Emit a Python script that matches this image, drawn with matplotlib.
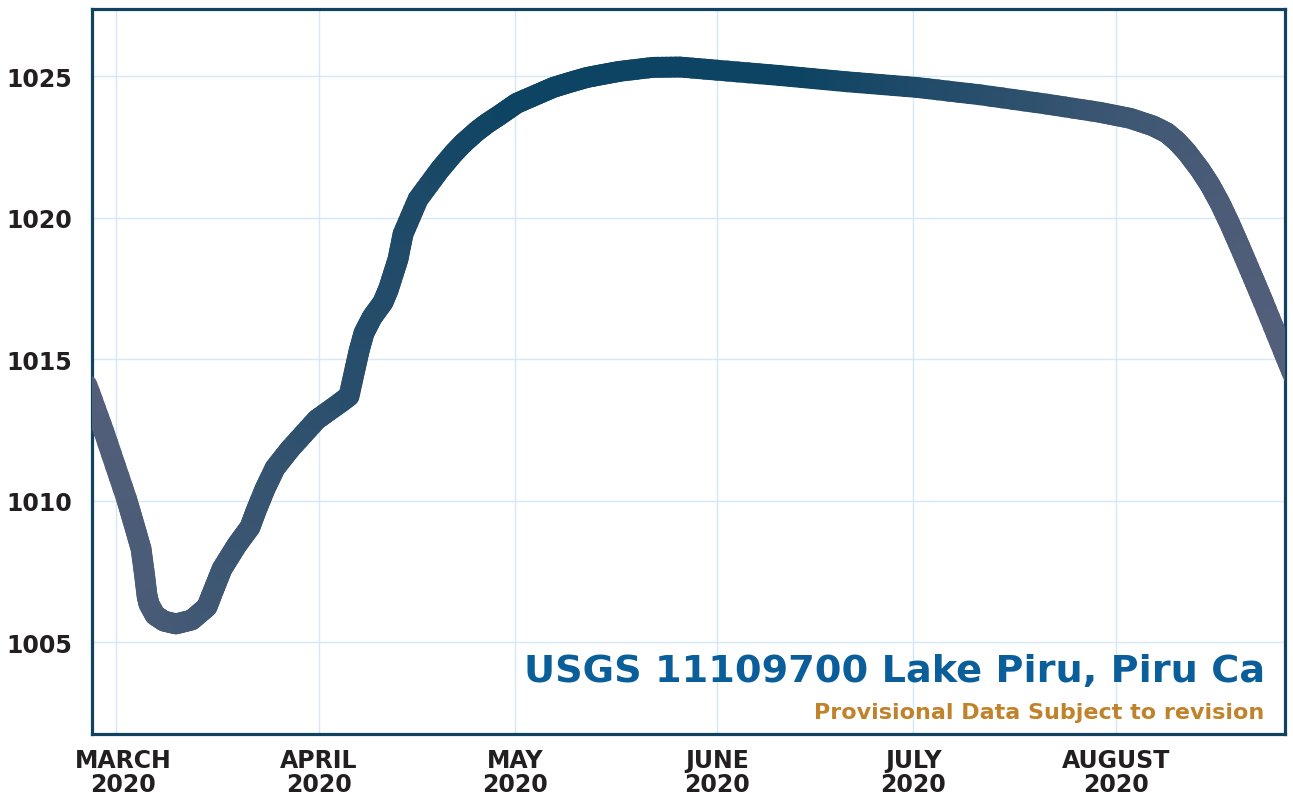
import numpy as np
import pandas as pd
import matplotlib
matplotlib.use("Agg")
import matplotlib.pyplot as plt
import matplotlib.dates as mdates
import matplotlib.transforms as mtransforms
from matplotlib.collections import LineCollection
from matplotlib.colors import LinearSegmentedColormap

# lake elevation readings (ft)
times = [
    "2020-02-25 13:30", "2020-02-28 04:00", "2020-03-02 15:00", "2020-03-03 17:45",
    "2020-03-04 20:00", "2020-03-05 08:20", "2020-03-05 18:00", "2020-03-06 01:10",
    "2020-03-06 23:15", "2020-03-08 08:00", "2020-03-10 04:00", "2020-03-12 14:00",
    "2020-03-14 22:00", "2020-03-15 15:00", "2020-03-17 05:00", "2020-03-19 12:00",
    "2020-03-21 12:00", "2020-03-22 10:00", "2020-03-23 19:00", "2020-03-25 08:00",
    "2020-03-27 15:00", "2020-03-31 17:00", "2020-04-04 06:30", "2020-04-05 15:30",
    "2020-04-06 13:40", "2020-04-07 04:20", "2020-04-07 22:30", "2020-04-09 04:30",
    "2020-04-10 20:30", "2020-04-11 16:30", "2020-04-13 03:30", "2020-04-13 22:00",
    "2020-04-16 05:00", "2020-04-19 13:40", "2020-04-21 14:40", "2020-04-23 03:20",
    "2020-04-25 04:30", "2020-04-26 17:15", "2020-04-28 18:00", "2020-05-01 07:30",
    "2020-05-04 02:40", "2020-05-06 21:50", "2020-05-09 11:00", "2020-05-12 00:30",
    "2020-05-14 12:15", "2020-05-17 02:40", "2020-05-22 05:00", "2020-05-26 07:00",
    "2020-05-31 21:50", "2020-06-10 14:10", "2020-06-20 19:10", "2020-07-01 12:15",
    "2020-07-11 04:30", "2020-07-21 09:40", "2020-07-29 13:00", "2020-08-03 03:20",
    "2020-08-06 16:00", "2020-08-08 18:00", "2020-08-10 07:00", "2020-08-11 19:40",
    "2020-08-13 20:30", "2020-08-15 09:00", "2020-08-16 22:00", "2020-08-18 10:30",
    "2020-08-19 23:20", "2020-08-22 00:15", "2020-08-23 13:00", "2020-08-26 14:20",
    "2020-08-28 02:00",
]
elevation = [
    1014.08, 1012.42, 1010.05, 1009.17,
    1008.29, 1007.40, 1006.63, 1006.34,
    1005.95, 1005.74, 1005.64, 1005.78,
    1006.24, 1006.66, 1007.58, 1008.43,
    1009.06, 1009.63, 1010.41, 1011.15,
    1011.82, 1012.86, 1013.45, 1013.69,
    1014.65, 1015.28, 1015.92, 1016.48,
    1017.01, 1017.47, 1018.53, 1019.42,
    1020.65, 1021.70, 1022.26, 1022.63,
    1023.05, 1023.32, 1023.63, 1024.04,
    1024.32, 1024.60, 1024.78, 1024.95,
    1025.06, 1025.17, 1025.31, 1025.32,
    1025.21, 1025.02, 1024.80, 1024.60,
    1024.34, 1024.01, 1023.72, 1023.51,
    1023.24, 1023.00, 1022.70, 1022.32,
    1021.70, 1021.16, 1020.51, 1019.77,
    1018.96, 1017.86, 1017.02, 1015.29,
    1014.45,
]

month_ticks = ["2020-03-01", "2020-04-01", "2020-05-01",
               "2020-06-01", "2020-07-01", "2020-08-01"]
month_labels = ["MARCH\n2020", "APRIL\n2020", "MAY\n2020",
                "JUNE\n2020", "JULY\n2020", "AUGUST\n2020"]
elev_ticks = [1005, 1010, 1015, 1020, 1025]

title_text = "USGS 11109700 Lake Piru, Piru Ca"
note_text = "Provisional Data Subject to revision"


def main():
    fig = plt.figure(figsize=(12.93, 8.03), dpi=100)
    ax = fig.add_axes([0.0712, 0.0847, 0.9226, 0.9028])

    x = mdates.date2num(pd.to_datetime(times))
    y = np.array(elevation)
    x_lim = mdates.date2num(pd.to_datetime(["2020-02-26 08:00", "2020-08-26 20:40"]))

    # cut each leg into short pieces so the colour fade is smooth
    pieces = []
    for i in range(len(x) - 1):
        t = np.linspace(0, 1, 7)
        xs = x[i] + (x[i + 1] - x[i]) * t
        ys = y[i] + (y[i + 1] - y[i]) * t
        for j in range(len(t) - 1):
            pieces.append([(xs[j], ys[j]), (xs[j + 1], ys[j + 1])])
    segs = np.array(pieces)
    frac = (segs[:, :, 0].mean(axis=1) - x_lim[0]) / (x_lim[1] - x_lim[0])

    cmap = LinearSegmentedColormap.from_list(
        "lake", [(0, "#535f7a"), (0.35, "#0e4463"), (0.6, "#0e4463"), (1, "#535f7a")])
    lc = LineCollection(segs, colors=cmap(frac), linewidths=15,
                        capstyle="round", joinstyle="round", zorder=3)
    ax.add_collection(lc)

    ax.set_xlim(x_lim)
    ax.set_ylim(1001.75, 1027.37)

    ax.set_xticks(mdates.date2num(pd.to_datetime(month_ticks)))
    ax.set_xticklabels(month_labels, fontsize=17, fontweight="bold",
                       color="#231f20", linespacing=1.0)
    ax.set_yticks(elev_ticks)
    ax.set_yticklabels([str(v) for v in elev_ticks], fontsize=17,
                       fontweight="bold", color="#231f20")
    ax.tick_params(axis="both", length=0)
    ax.tick_params(axis="y", pad=14)
    ax.tick_params(axis="x", pad=10)
    # first month label sits a little right of its gridline
    first = ax.get_xticklabels()[0]
    first.set_transform(first.get_transform()
                        + mtransforms.ScaledTranslation(0.07, 0, fig.dpi_scale_trans))

    ax.grid(True, color="#d5e8f7", lw=1)
    ax.set_axisbelow(True)
    for sp in ax.spines.values():
        sp.set_color("#11425f")
        sp.set_linewidth(2.3)

    ax.text(0.983, 0.0731, title_text, transform=ax.transAxes, ha="right",
            va="baseline", fontsize=27.5, fontweight="bold", color="#0a5e99", zorder=4)
    ax.text(0.983, 0.0221, note_text, transform=ax.transAxes, ha="right",
            va="baseline", fontsize=16, fontweight="bold", color="#c0832b", zorder=4)

    fig.savefig("out.png", dpi=100)


if __name__ == '__main__':
    main()
